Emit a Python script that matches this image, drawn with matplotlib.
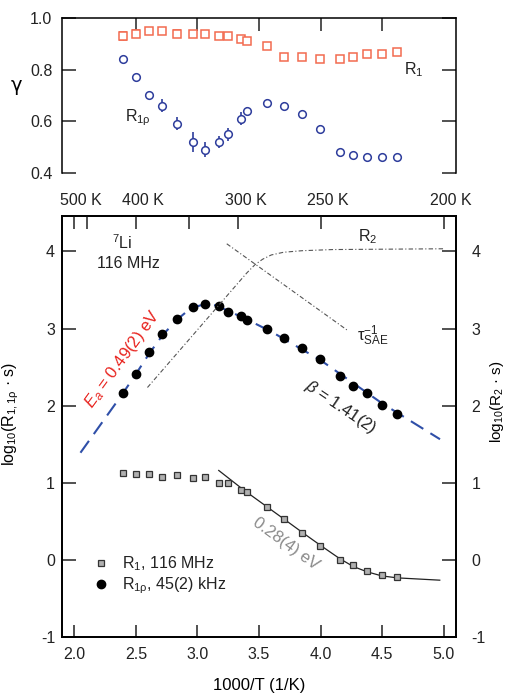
import matplotlib
matplotlib.use("Agg")
import matplotlib.pyplot as plt
from matplotlib.lines import Line2D
from matplotlib.transforms import ScaledTranslation

plt.rcParams['font.family'] = ['Liberation Sans', 'DejaVu Sans']
plt.rcParams['mathtext.fontset'] = 'custom'
plt.rcParams['mathtext.rm'] = 'Liberation Sans'
plt.rcParams['mathtext.it'] = 'Liberation Sans:italic'
plt.rcParams['mathtext.bf'] = 'Liberation Sans:bold'
plt.rcParams['axes.linewidth'] = 1.1
plt.rcParams['text.color'] = '#222222'
plt.rcParams['xtick.color'] = '#222222'
plt.rcParams['ytick.color'] = '#222222'

# 1000/T (1/K) of the measurements
inv_T = [2.392, 2.500, 2.608, 2.716, 2.833, 2.963, 3.065, 3.174, 3.251, 3.352,
         3.403, 3.568, 3.706, 3.849, 3.998, 4.155, 4.263, 4.379, 4.496, 4.622]

# stretch exponents
gamma_r1 = [0.93, 0.94, 0.95, 0.95, 0.94, 0.94, 0.94, 0.93, 0.93, 0.92,
            0.91, 0.89, 0.85, 0.85, 0.84, 0.84, 0.85, 0.86, 0.86, 0.87]
gamma_r1_err = [0.015, 0.015, 0, 0, 0.015, 0, 0, 0, 0, 0,
                0, 0, 0, 0, 0, 0, 0, 0, 0, 0]
gamma_r1rho = [0.84, 0.77, 0.70, 0.66, 0.59, 0.52, 0.49, 0.52, 0.55, 0.61,
               0.64, 0.67, 0.66, 0.63, 0.57, 0.48, 0.47, 0.46, 0.46, 0.46]
gamma_r1rho_err = [0.005, 0.015, 0.015, 0.025, 0.025, 0.04, 0.03, 0.025, 0.025, 0.025,
                   0.015, 0.015, 0.015, 0.015, 0.015, 0.008, 0.008, 0.012, 0.008, 0.008]

# log10 of the rates
log_r1rho = [2.16, 2.41, 2.70, 2.93, 3.12, 3.28, 3.32, 3.29, 3.21, 3.16,
             3.11, 2.99, 2.88, 2.75, 2.60, 2.39, 2.26, 2.16, 2.01, 1.89]
log_r1 = [1.13, 1.12, 1.11, 1.08, 1.10, 1.06, 1.07, 1.00, 1.00, 0.91,
          0.88, 0.69, 0.53, 0.35, 0.18, 0.00, -0.07, -0.14, -0.19, -0.22]

# fitted R1rho curve (Ea = 0.49 eV, beta = 1.41)
fit_rho_x = [2.05, 2.39, 2.50, 2.61, 2.72, 2.83, 2.92, 3.00, 3.07, 3.15,
             3.25, 3.40, 3.60, 4.00, 4.50, 4.97]
fit_rho_y = [1.39, 2.15, 2.41, 2.68, 2.92, 3.11, 3.23, 3.29, 3.32, 3.30,
             3.23, 3.12, 2.96, 2.59, 2.03, 1.565]

# fitted R1 curve (0.28 eV plus background)
fit_r1_x = [3.173, 3.346, 3.400, 3.568, 3.706, 3.847, 3.998, 4.155, 4.266,
            4.379, 4.496, 4.622, 4.968]
fit_r1_y = [1.16, 0.944, 0.879, 0.685, 0.526, 0.362, 0.19, 0.017, -0.086,
            -0.155, -0.207, -0.233, -0.263]

# R2 and inverse SAE correlation time
r2_x = [2.594, 3.40, 3.468, 3.53, 3.60, 3.70, 3.85, 4.10, 4.995]
r2_y = [2.236, 3.72, 3.83, 3.90, 3.955, 3.99, 4.01, 4.025, 4.035]
sae_x = [3.238, 4.225]
sae_y = [4.10, 2.97]

temp_ticks = [500, 400, 300, 250, 200]
temp_minor = [475, 341]

x_ticks = [2.0, 2.5, 3.0, 3.5, 4.0, 4.5, 5.0]
y_ticks = [-1, 0, 1, 2, 3, 4]
g_ticks = [0.4, 0.6, 0.8, 1.0]

orange = '#f26b50'
navy = '#2e3d9c'
dash_blue = '#2f4fa8'

fig = plt.figure(figsize=(5.09, 6.93), dpi=100)
ax_g = fig.add_axes([0.1218, 0.7504, 0.7741, 0.2236])
ax = fig.add_axes([0.1218, 0.0808, 0.7741, 0.6075])

# ---- top panel: stretch exponents ----
ax_g.errorbar(inv_T, gamma_r1, yerr=gamma_r1_err, fmt='s', ms=6, mfc='white',
              mec=orange, mew=1.1, ecolor=orange, elinewidth=1.0, capsize=3,
              clip_on=False)
ax_g.errorbar(inv_T, gamma_r1rho, yerr=gamma_r1rho_err, fmt='o', ms=5.5, mfc='white',
              mec=navy, mew=1.1, ecolor=navy, elinewidth=1.2, capsize=0,
              clip_on=False)
ax_g.set_xlim(1.9, 5.1)
ax_g.set_ylim(0.4, 1.0)
ax_g.spines['bottom'].set_visible(False)
ax_g.set_xticks([2.5, 3.0, 3.5, 4.0, 4.5])
ax_g.tick_params(axis='x', bottom=False, top=True, labelbottom=False,
                 direction='in', length=9, width=1.1)
ax_g.set_yticks(g_ticks)
ax_g.set_yticklabels(['%.1f' % v for v in g_ticks])
ax_g.tick_params(axis='y', left=True, right=True, direction='in', length=10,
                 width=1.1, labelsize=11.5, pad=7)
ax_g.set_ylabel('γ', fontsize=14, rotation=0, family='DejaVu Sans')
ax_g.yaxis.set_label_coords(-0.115, 0.5)
ax_g.text(4.76, 0.80, 'R$_1$', fontsize=11.5, ha='center', va='center')
ax_g.text(2.52, 0.615, 'R$_{\\mathrm{1ρ}}$', fontsize=11.5, ha='center', va='center')

# ---- bottom panel: rates ----
ax2 = ax.twinx()
ax.plot(fit_rho_x, fit_rho_y, color=dash_blue, lw=1.5, dashes=(7, 4), zorder=2)
ax.plot(fit_r1_x, fit_r1_y, color='#222222', lw=0.9, zorder=2)
ax.plot(inv_T, log_r1rho, 'o', ms=6, color='black', zorder=3)
ax.plot(inv_T, log_r1, 's', ms=4.6, mfc='#b0b0b0', mec='#333333', mew=0.9, zorder=3)

ax2.plot(r2_x, r2_y, color='#555555', lw=0.8, dashes=(4, 2, 1, 2))
ax2.plot(sae_x, sae_y, color='#555555', lw=0.8, dashes=(4, 2, 1, 2))

for a in (ax, ax2):
    a.set_xlim(1.9, 5.1)
    a.set_ylim(-1, 4.46)
    a.set_yticks(y_ticks)
    a.set_yticklabels([str(v) for v in y_ticks])

ax.set_xticks(x_ticks)
ax.set_xticklabels(['%.1f' % v for v in x_ticks])
ax.tick_params(axis='x', bottom=True, top=False, direction='in', length=9,
               width=1.1, labelsize=11.5, pad=7)
ax.tick_params(axis='y', left=True, right=False, direction='in', length=10,
               width=1.1, labelsize=11.5, pad=5)
ax2.tick_params(axis='y', right=True, left=False, direction='in', length=10,
                width=1.1, labelsize=11.5, pad=11)

# temperature scale on top
ax_t = ax.twiny()
ax_t.set_xlim(1.9, 5.1)
ax_t.set_xticks([1000.0 / t for t in temp_ticks])
ax_t.set_xticklabels(['%d K' % t for t in temp_ticks])
ax_t.set_xticks([1000.0 / t for t in temp_minor], minor=True)
ax_t.tick_params(axis='x', which='both', direction='in', length=9, width=1.1,
                 labelsize=11.5, pad=6)
shift = ScaledTranslation(0.07, 0, fig.dpi_scale_trans)
for lab in ax_t.get_xticklabels():
    lab.set_transform(lab.get_transform() + shift)

ax.set_xlabel('1000/T (1/K)', fontsize=12, labelpad=12)
ax.set_ylabel('log$_{10}$(R$_{\\mathrm{1,1ρ}}$ · s)', fontsize=11.5)
ax.yaxis.set_label_coords(-0.105, 0.53)
ax2.set_ylabel('log$_{10}$(R$_2$ · s)', fontsize=11)
ax2.yaxis.set_label_coords(1.082, 0.56)

ax.text(2.39, 4.12, '$^7$Li', fontsize=11.5, ha='center', va='center')
ax.text(2.44, 3.84, '116 MHz', fontsize=11.5, ha='center', va='center')
ax.text(2.39, 2.60, '$E_a$ = 0.49(2) eV', color='#e8231e', fontsize=12,
        rotation=54, rotation_mode='anchor', ha='center', va='center')
ax.text(4.164, 1.98, '$β$ = 1.41(2)', fontsize=12, rotation=-34,
        rotation_mode='anchor', ha='center', va='center')
ax.text(3.718, 0.215, '0.28(4) eV', color='#8a8a8a', fontsize=12, rotation=-36,
        rotation_mode='anchor', ha='center', va='center')
ax.text(4.385, 4.19, 'R$_2$', fontsize=11.5, ha='center', va='center')
ax.text(4.42, 2.90, '$\\mathrm{τ}^{-1}_{\\mathrm{SAE}}$', fontsize=12,
        ha='center', va='center')

handles = [Line2D([], [], ls='none', marker='s', ms=4.6, mfc='#b0b0b0',
                  mec='#333333', mew=0.9),
           Line2D([], [], ls='none', marker='o', ms=6, color='black')]
labels = ['R$_1$, 116 MHz', 'R$_{\\mathrm{1ρ}}$, 45(2) kHz']
ax.legend(handles, labels, loc='lower left', bbox_to_anchor=(0.05, 0.07),
          frameon=False, fontsize=11.5, handlelength=1.0, handletextpad=0.8,
          labelspacing=0.15, borderpad=0.2)

fig.savefig('out.png', dpi=100)
